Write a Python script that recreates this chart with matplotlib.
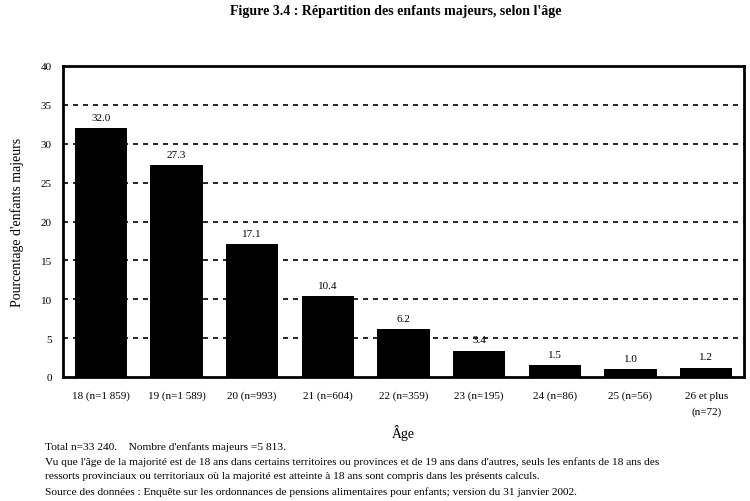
import matplotlib.pyplot as plt

categories = [
    "18 (n=1 859)", "19 (n=1 589)", "20 (n=993)", "21 (n=604)", "22 (n=359)",
    "23 (n=195)", "24 (n=86)", "25 (n=56)", "26 et plus\n(n=72)",
]
values = [32.0, 27.3, 17.1, 10.4, 6.2, 3.4, 1.5, 1.0, 1.2]
value_labels = ["32.0", "27.3", "17.1", "10.4", "6.2", "3.4", "1.5", "1.0", "1.2"]
yticks = [0, 5, 10, 15, 20, 25, 30, 35, 40]

notes = [
    "Total n=33 240.    Nombre d'enfants majeurs =5 813.",
    "Vu que l'âge de la majorité est de 18 ans dans certains territoires ou provinces et de 19 ans dans d'autres, seuls les enfants de 18 ans des",
    "ressorts provinciaux ou territoriaux où la majorité est atteinte à 18 ans sont compris dans les présents calculs.",
    "Source des données : Enquête sur les ordonnances de pensions alimentaires pour enfants; version du 31 janvier 2002.",
]

plt.rcParams["font.family"] = ["Liberation Serif", "DejaVu Serif"]

fig = plt.figure(figsize=(7.5, 5.02), dpi=100)
ax = fig.add_axes([63 / 750, 1 - 378 / 502, 681 / 750, 311 / 502])

x = list(range(len(categories)))
ax.bar(x, values, width=0.69, color="black", zorder=3)
for xi, v, lab in zip(x, values, value_labels):
    ax.text(xi, v + 0.8, lab, ha="center", va="bottom", fontsize=8)

for y in yticks[1:-1]:
    ax.axhline(y, color="black", linestyle=(0, (3, 3)), linewidth=1.2, zorder=1)

ax.set_xlim(-0.5, len(categories) - 0.5)
ax.set_ylim(0, 40)
ax.set_yticks(yticks)
ax.set_xticks(x)
ax.set_xticklabels(categories, fontsize=8, va="top")
for lbl in ax.get_xticklabels():
    lbl.set_linespacing(1.9)
ax.tick_params(axis="both", length=0, labelsize=8)
ax.tick_params(axis="x", pad=10)
ax.tick_params(axis="y", pad=8)
for s in ax.spines.values():
    s.set_linewidth(2)

ax.set_ylabel("Pourcentage d'enfants majeurs", fontsize=10, labelpad=12)
ax.set_xlabel("Âge", fontsize=10, labelpad=6)

fig.text(0.527, 1 - 12 / 502, "Figure 3.4 : Répartition des enfants majeurs, selon l'âge",
         ha="center", va="center", fontsize=10, fontweight="bold")

for i, line in enumerate(notes):
    fig.text(45 / 750, 1 - (447 + i * 15) / 502, line, ha="left", va="center", fontsize=8.2)

fig.savefig("out.png", dpi=100)
